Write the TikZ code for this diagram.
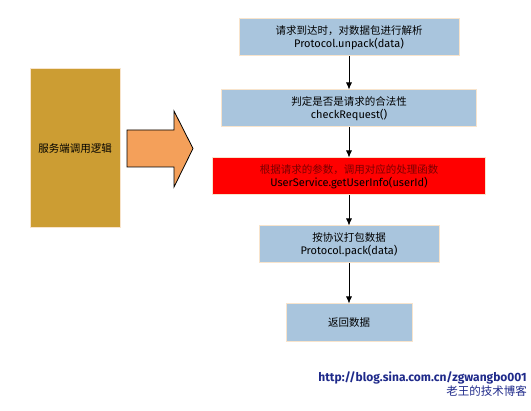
\documentclass[tikz,border=0pt]{standalone}
\usepackage{fontspec}
\setmainfont{Fira Sans}
\newfontfamily\cjk{Noto Sans CJK SC}
\newcommand{\zh}[1]{{\cjk\fontsize{10.5}{13.5}\selectfont #1}}
\usetikzlibrary{positioning,arrows.meta}
\definecolor{boxblue}{HTML}{A9C5DD}
\definecolor{boxedge}{HTML}{F8E4CC}
\definecolor{logicgold}{HTML}{CC9D33}
\definecolor{callred}{HTML}{FF0000}
\definecolor{calltext}{HTML}{7A0000}
\definecolor{bigarrow}{HTML}{F4A05A}
\definecolor{blognavy}{HTML}{1F2A8A}
\begin{document}
\begin{tikzpicture}[
        x=1pt, y=-1pt,
        box/.style={rectangle, draw=boxedge, fill=boxblue, line width=1pt, inner sep=0pt,
            minimum height=37pt, align=center, font=\fontsize{11}{13.5}\selectfont},
        arrow/.style={-{Latex[length=7pt,width=6pt]}, line width=0.8pt}
    ]
    \useasboundingbox (0,0) rectangle (531,411);

    % Server side logic
    \node[box, fill=logicgold, minimum width=90pt, minimum height=159pt] (logic) at (75,148.5)
        {\zh{服务端调用逻辑}};

    % Big arrow
    \draw[fill=bigarrow, line width=0.8pt] (127,130) -- (174,130) -- (174,111) -- (193,148.5)
        -- (174,187) -- (174,167) -- (127,167) -- cycle;

    % Unpack request
    \node[box, minimum width=220pt] (unpack) at (349,37.5)
        {\zh{请求到达时，对数据包进行解析}\\Protocol.unpack(data)};

    % Check request
    \node[box, minimum width=255pt, below=33pt of unpack] (check)
        {\zh{判定是否是请求的合法性}\\checkRequest()};

    % Call service
    \node[box, fill=callred, minimum width=273pt, below=30pt of check] (service)
        {\zh{\color{calltext}根据请求的参数，调用对应的处理函数}\\UserService.getUserInfo(userId)};

    % Pack response
    \node[box, minimum width=180pt, below=30pt of service] (pack)
        {\zh{按协议打包数据}\\Protocol.pack(data)};

    % Return data
    \node[box, minimum width=126pt, minimum height=38pt, below=40pt of pack] (result)
        {\zh{返回数据}};

    % Arrows
    \draw[arrow] (unpack) -- (check);
    \draw[arrow] (check) -- (service);
    \draw[arrow] (service) -- (pack);
    \draw[arrow] (pack) -- (result);

    % Blog
    \node[anchor=north east, align=right, inner sep=0pt, text=blognavy] (blog) at (527,372)
        {\fontsize{12}{12.5}\selectfont\bfseries http://blog.sina.com.cn/zgwangbo001\\
         \fontsize{11.5}{12.5}\selectfont\cjk 老王的技术博客};

\end{tikzpicture}
\end{document}
